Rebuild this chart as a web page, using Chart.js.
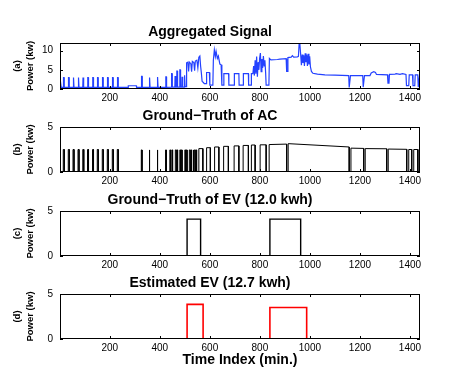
<!DOCTYPE html>
<html>
<head>
<meta charset="utf-8">
<script src="https://cdn.jsdelivr.net/npm/chart.js@4.4.0/dist/chart.umd.min.js"></script>
<style>
  body { margin: 0; background: #fff; }
  #wrap { position: relative; width: 463px; height: 382px; }
  .panel { position: absolute; left: 0; width: 463px; }
  .panel canvas { display: block; }
</style>
</head>
<body>
<div id="wrap">
  <div class="panel" style="top:18px;height:91px"><canvas id="chA" width="463" height="91"></canvas></div>
  <div class="panel" style="top:102px;height:90px"><canvas id="chB" width="463" height="90"></canvas></div>
  <div class="panel" style="top:186px;height:90px"><canvas id="chC" width="463" height="90"></canvas></div>
  <div class="panel" style="top:269px;height:105px"><canvas id="chD" width="463" height="105"></canvas></div>
</div>
<script>
// x axis (minutes of the day)
const xTicks = [200, 400, 600, 800, 1000, 1200, 1400];
const xMin = 1, xMax = 1440;

// (a) aggregated signal, [minute, kw]
const aggSignal = [
  [1,3.0],[4,3.0],[6,0.4],
  [14,0.4],[15,3.0],[17,3.0],[18,0.4],[34,0.4],[35,3.0],[37,3.0],[38,0.4],
  [53,0.4],[54,3.0],[56,3.0],[57,0.4],[73,0.4],[74,3.0],[76,3.0],[77,0.4],
  [92,0.4],[93,3.0],[95,3.0],[96,0.4],[111,0.4],[112,3.0],[114,3.0],[115,0.4],
  [131,0.4],[132,3.0],[134,3.0],[135,0.4],[150,0.4],[151,3.0],[153,3.0],[154,0.4],
  [170,0.4],[171,3.0],[173,3.0],[174,0.4],[190,0.4],[191,3.0],[193,3.0],[194,0.4],
  [210,0.4],[211,3.0],[213,3.0],[214,0.4],[230,0.4],[231,3.0],[233,3.0],[234,0.4],
  [273,0.4],[274,0.85],[306,0.85],[307,0.4],
  [326,0.4],[327,3.3],[329,3.3],[330,0.4],[357,0.4],[358,3.0],[360,3.0],[361,0.4],
  [389,0.4],[390,3.1],[392,3.1],[393,0.4],[423,0.4],[424,3.2],[426,3.2],[427,0.4],
  [446,0.5],[447,4.0],[449,4.0],[450,0.5],[460,0.5],[461,3.4],[463,3.4],[464,0.5],
  [467,0.5],[468,4.7],[470,4.7],[471,0.5],[479,0.5],[480,5.0],[482,5.0],[483,0.5],
  [488,0.5],[489,3.2],[491,3.2],[492,0.5],[497,0.5],[498,3.6],[500,3.6],[501,0.6],
  [505,0.6],[507,6.8],[512,7.0],[515,4.6],[518,7.0],[524,6.6],[527,4.5],[530,7.2],
  [536,6.9],[539,4.8],[542,7.3],[548,7.5],[552,5.5],[556,8.3],[560,8.6],[563,6.0],
  [566,4.2],[569,2.0],[574,1.7],[578,1.4],[586,1.4],[587,4.3],[598,4.3],[600,1.0],
  [612,1.0],[614,7.5],[618,10.2],[622,8.5],[625,9.8],[630,8.0],[634,8.6],[640,6.5],
  [645,6.3],[648,1.0],[655,1.0],[656,4.0],[675,4.0],[676,1.0],[697,1.0],[698,4.0],
  [716,4.0],[717,1.0],[733,1.0],[734,4.0],[754,4.0],[755,1.0],[765,1.0],[766,4.0],
  [772,4.0],[775,6.0],[778,3.5],[781,7.5],[784,4.0],[787,8.5],[790,3.2],[793,7.0],
  [796,5.0],[799,8.0],[802,9.4],[805,4.5],[808,7.8],[811,5.5],[814,8.6],[817,6.0],
  [820,7.5],[823,4.2],[825,1.0],[836,1.0],[838,8.0],[844,7.6],[870,7.7],[880,7.8],
  [905,7.9],[907,4.6],[910,4.6],[912,8.2],[925,8.3],[930,8.7],[935,8.3],[950,8.4],
  [954,8.5],[957,12.0],[960,11.5],[963,9.0],[966,6.2],[969,9.0],[972,6.8],[975,8.8],
  [978,6.0],[981,9.3],[984,7.0],[987,9.0],[990,6.0],[993,9.2],[996,6.4],[999,8.5],
  [1002,5.8],[1006,4.6],[1012,4.1],[1030,3.9],[1060,3.7],[1100,3.6],[1155,3.5],
  [1157,0.4],[1160,0.4],[1162,3.5],[1211,3.5],[1213,0.5],[1216,0.5],[1218,3.5],
  [1240,3.5],[1245,4.2],[1255,4.5],[1262,4.3],[1266,3.8],[1310,3.7],[1312,1.5],
  [1316,1.5],[1318,3.8],[1340,3.9],[1345,4.0],[1360,3.8],[1370,4.0],[1384,3.8],
  [1386,0.9],[1395,0.9],[1397,3.7],[1410,3.7],[1412,0.9],[1419,0.9],[1421,3.7],
  [1431,3.7],[1433,0.5],[1436,0.5],[1438,3.5],[1440,3.5]
];

// (b) ground truth AC: on/off minutes and power level (kw)
const acStart = [14,34,53,73,92,111,131,150,170,190,210,230,
  326,357,389,423,440,448,462,468,480,486,500,506,518,524,533,538,544,
  556,587,619,655,697,733,766,801,837,913,1164,1221,1313,1395,1415,1436];
const acEnd = [18,38,57,77,96,115,135,154,174,194,214,234,
  329,360,392,426,443,451,465,471,483,489,503,509,521,527,536,541,547,
  572,602,636,674,716,754,781,825,907,1157,1215,1307,1387,1407,1431,1440];
const acLevel = [2.5,2.5,2.5,2.5,2.5,2.5,2.5,2.5,2.5,2.5,2.5,2.5,
  2.45,2.45,2.45,2.45,2.45,2.45,2.45,2.45,2.45,2.45,2.45,2.45,2.45,2.45,2.45,2.45,2.45,
  2.6,2.7,2.78,2.85,2.9,2.95,3.0,3.02,3.05,3.15,2.65,2.6,2.55,2.5,2.5,2.5];
const acLevelEnd = [2.5,2.5,2.5,2.5,2.5,2.5,2.5,2.5,2.5,2.5,2.5,2.5,
  2.45,2.45,2.45,2.45,2.45,2.45,2.45,2.45,2.45,2.45,2.45,2.45,2.45,2.45,2.45,2.45,2.45,
  2.6,2.7,2.78,2.85,2.9,2.95,3.0,3.02,3.1,2.78,2.62,2.58,2.52,2.5,2.5,2.5];

// (c) ground truth EV
const evStart = [509, 840];
const evEnd = [563, 963];
const evLevel = [4.1, 4.1];

// (d) estimated EV
const estStart = [509, 840];
const estEnd = [573, 987];
const estLevel = [3.85, 3.5];

Chart.defaults.font.family = "'Liberation Sans', Arial, sans-serif";
Chart.defaults.color = '#000';

function pulses(starts, ends, lv, lvEnd) {
  const pts = [{x: xMin, y: 0}];
  for (let i = 0; i < starts.length; i++) {
    pts.push({x: starts[i], y: 0});
    pts.push({x: starts[i], y: lv[i]});
    pts.push({x: ends[i], y: (lvEnd || lv)[i]});
    pts.push({x: ends[i], y: 0});
  }
  pts.push({x: xMax, y: 0});
  return pts;
}

// matlab style box with inward ticks
const boxTicks = {
  id: 'boxTicks',
  afterDatasetsDraw(chart) {
    const {ctx, chartArea: a, scales} = chart;
    ctx.save();
    ctx.strokeStyle = '#000';
    ctx.lineWidth = 1;
    ctx.strokeRect(a.left + 0.5, a.top + 0.5, a.width - 1, a.height - 1);
    ctx.beginPath();
    scales.x.ticks.forEach(t => {
      const px = Math.round(scales.x.getPixelForValue(t.value)) + 0.5;
      ctx.moveTo(px, a.bottom); ctx.lineTo(px, a.bottom - 3);
      ctx.moveTo(px, a.top); ctx.lineTo(px, a.top + 3);
    });
    scales.y.ticks.forEach(t => {
      const py = Math.round(scales.y.getPixelForValue(t.value)) + 0.5;
      ctx.moveTo(a.left, py); ctx.lineTo(a.left + 3, py);
      ctx.moveTo(a.right, py); ctx.lineTo(a.right - 3, py);
    });
    ctx.stroke();
    ctx.restore();
  }
};

function makePanel(id, cfg) {
  const xScale = {
    type: 'linear', min: xMin, max: xMax,
    grid: {display: false, drawTicks: false}, border: {display: false},
    ticks: {font: {size: 10}, padding: 3, autoSkip: false, maxRotation: 0,
      callback: v => String(v)},
    afterBuildTicks: s => { s.ticks = xTicks.map(v => ({value: v})); },
    afterFit: s => { s.height = cfg.xHeight || 20; }
  };
  if (cfg.xTitle) {
    xScale.title = {display: true, text: cfg.xTitle, font: {size: 14, weight: 'bold'},
      padding: {top: 0, bottom: 5.6}};
  }
  new Chart(document.getElementById(id), {
    type: 'line',
    data: {datasets: [{
      data: cfg.data,
      borderColor: cfg.color,
      borderWidth: cfg.width,
      pointRadius: 0,
      tension: 0,
      fill: false
    }]},
    options: {
      responsive: false,
      animation: false,
      devicePixelRatio: 1,
      layout: {padding: {left: 0, right: 43, top: 0, bottom: 0}},
      plugins: {
        legend: {display: false},
        tooltip: {enabled: false},
        title: {display: true, text: cfg.title, font: {size: 14, weight: 'bold'},
          padding: {top: 6, bottom: 2.2}}
      },
      scales: {
        x: xScale,
        y: {
          min: 0, max: cfg.yMax,
          grid: {display: false, drawTicks: false}, border: {display: false},
          ticks: {font: {size: 10}, padding: 7, callback: v => String(v)},
          afterBuildTicks: s => { s.ticks = cfg.yTicks.map(v => ({value: v})); },
          afterFit: s => { s.width = 60; },
          title: {display: true, text: [cfg.tag, 'Power (kw)'],
            font: {size: 9.5, weight: 'bold', lineHeight: '13px'},
            padding: {top: 10.5, bottom: 0}}
        }
      }
    },
    plugins: [boxTicks]
  });
}

makePanel('chA', {
  title: 'Aggregated Signal', tag: '(a)', yMax: 12, yTicks: [0, 5, 10],
  data: aggSignal.map(p => ({x: p[0], y: p[1]})), color: 'rgb(35,65,255)', width: 1.2
});
makePanel('chB', {
  title: 'Ground\u2212Truth of AC', tag: '(b)', yMax: 5, yTicks: [0, 5],
  data: pulses(acStart, acEnd, acLevel, acLevelEnd), color: '#000', width: 1
});
makePanel('chC', {
  title: 'Ground\u2212Truth of EV (12.0 kwh)', tag: '(c)', yMax: 5, yTicks: [0, 5],
  data: pulses(evStart, evEnd, evLevel), color: '#000', width: 1.4
});
makePanel('chD', {
  title: 'Estimated EV (12.7 kwh)', tag: '(d)', yMax: 5, yTicks: [0, 5],
  data: pulses(estStart, estEnd, estLevel), color: 'rgb(255,0,0)', width: 1.6,
  xHeight: 35, xTitle: 'Time Index (min.)'
});
</script>
</body>
</html>
